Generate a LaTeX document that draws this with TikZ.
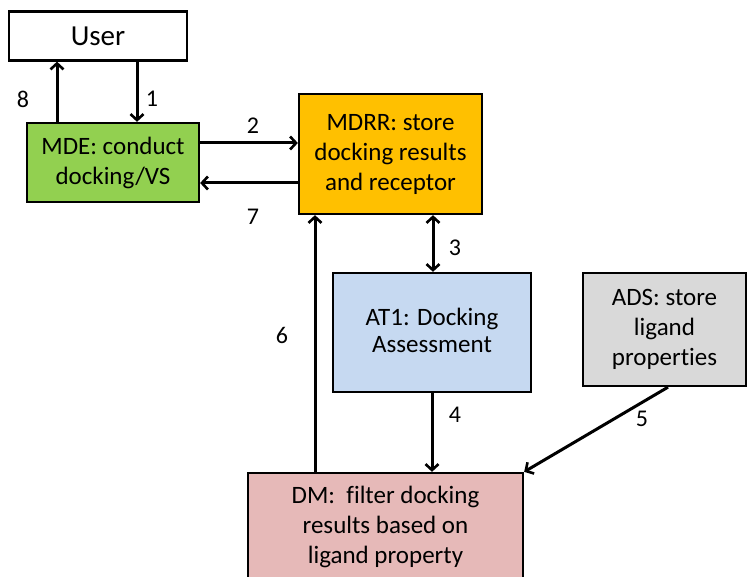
\documentclass[tikz,border=0pt]{standalone}
\usepackage{fontspec}
\setmainfont{Carlito}[Ligatures=NoCommon]
\usetikzlibrary{arrows.meta}
\definecolor{cgreen}{HTML}{92D050}
\definecolor{corange}{HTML}{FFC000}
\definecolor{cblue}{HTML}{C6D9F1}
\definecolor{cgray}{HTML}{D9D9D9}
\definecolor{cpink}{HTML}{E6B9B8}
\tikzset{
  box/.style={draw=black, line width=2.3pt, align=center, inner sep=0pt,
    font=\fontsize{25}{30}\selectfont, text=black},
  arr/.style={line width=3pt, -{Straight Barb[length=6pt,width=13pt,line width=2.6pt]}},
  darr/.style={line width=3pt, {Straight Barb[length=6pt,width=13pt,line width=2.6pt]}-{Straight Barb[length=6pt,width=13pt,line width=2.6pt]}},
  lbl/.style={font=\fontsize{24}{28}\selectfont, text=black, inner sep=0pt}
}
\begin{document}
\begin{tikzpicture}[x=1pt,y=-1pt]
\useasboundingbox (0,0) rectangle (747,577);
\clip (0,0) rectangle (747,577);
\node[box, minimum width=178pt, minimum height=49pt, font=\fontsize{29}{34}\selectfont] (User) at (98,36) {User};
\node[box, fill=cgreen, minimum width=172pt, minimum height=79pt] (MDE) at (113,162.5) {MDE: conduct\\docking/VS};
\node[box, fill=corange, minimum width=183pt, minimum height=120pt] (MDRR) at (390.5,154) {MDRR: store\\docking results\\and receptor};
\node[box, fill=cblue, minimum width=198pt, minimum height=119pt] (AT1) at (432,332.5) {\raisebox{6pt}{\begin{tabular}{@{}c@{}}AT1: Docking\\[-3pt]Assessment\end{tabular}}};
\node[box, fill=cgray, minimum width=163pt, minimum height=113pt] (ADS) at (664.5,329.5) {ADS: store\\ligand\\properties};
\node[box, fill=cpink, minimum width=275pt, minimum height=108pt] (DM) at (385.5,527) {DM:\ \ filter docking\\results based on\\ligand property};
\coordinate (x8) at (57,0);
\coordinate (x1) at (137,0);
\coordinate (y2) at (0,143);
\coordinate (y7) at (0,183);
\coordinate (x3) at (433,0);
\coordinate (x6) at (315,0);
\coordinate (x5) at (668,0);
\draw[arr] (MDE.north -| x8) -- (User.south -| x8);
\draw[arr] (User.south -| x1) -- (MDE.north -| x1);
\draw[arr] (MDE.east |- y2) -- (MDRR.west |- y2);
\draw[arr] (MDRR.west |- y7) -- (MDE.east |- y7);
\draw[darr] (MDRR.south -| x3) -- (AT1.north -| x3);
\draw[arr] (AT1.south) -- (AT1.south |- DM.north);
\draw[arr] (ADS.south -| x5) -- (DM.north east);
\draw[arr] (DM.north -| x6) -- (MDRR.south -| x6);
\node[lbl] (l8) at (23,99) {8};
\node[lbl] (l1) at (152,99) {1};
\node[lbl] (l2) at (253,126) {2};
\node[lbl] (l7) at (253,217) {7};
\node[lbl] (l3) at (455,248) {3};
\node[lbl] (l6) at (282,335) {6};
\node[lbl] (l4) at (455,415) {4};
\node[lbl] (l5) at (642,419) {5};
\end{tikzpicture}
\end{document}
